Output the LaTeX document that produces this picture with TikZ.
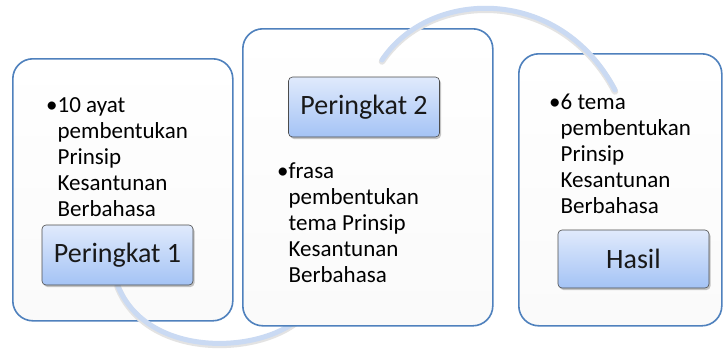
\documentclass[tikz,border=0pt]{standalone}
\usepackage{fontspec}
\setmainfont{Carlito}
\usetikzlibrary{shadows}

\definecolor{rim}{RGB}{79,129,189}
\definecolor{labtop}{RGB}{224,234,252}
\definecolor{labbot}{RGB}{164,195,245}
\definecolor{arcblue}{RGB}{202,218,243}

\newcommand{\bul}{\textbullet}
\newcommand{\ind}{\hphantom{\textbullet}}
\newcommand{\pts}[1]{\begin{tabular}[t]{@{}l@{}}#1\end{tabular}}

\begin{document}
\begin{tikzpicture}[x=1pt, y=-1pt,
    panel/.style={draw=rim, line width=1.6pt, rounded corners=20pt,
      top color=white, bottom color=gray!4, anchor=north west},
    tagbox/.style={draw=gray!60!black, line width=0.6pt, rounded corners=4pt,
      top color=labtop, bottom color=labbot,
      drop shadow={shadow xshift=1.5pt, shadow yshift=-2pt, opacity=0.45},
      minimum width=151pt, minimum height=60pt,
      font=\fontsize{28}{32}\selectfont, text=black!90},
    body/.style={inner sep=0pt, anchor=base west,
      font=\fontsize{23}{26}\selectfont},
    sweep/.style={line width=5pt, arcblue, line cap=round},
    sweepshade/.style={line width=6.5pt, gray!22, line cap=round}]

    % Page
    \fill[white] (0,0) rectangle (723,349);
    \useasboundingbox (0,0) rectangle (723,349);

    % Define coordinates
    \coordinate (lowstart) at (117.5,285);
    \coordinate (lowend) at (295,322);
    \coordinate (upstart) at (382,60);
    \coordinate (upend) at (615,90);

    % First panel and lower sweep
    \node[panel, minimum width=220pt, minimum height=262pt] (box1) at (12,58) {};
    \draw[sweepshade, transform canvas={yshift=-1.5pt}] (lowstart) .. controls (145,355) and (250,355) .. (lowend);
    \draw[sweep] (lowstart) .. controls (145,355) and (250,355) .. (lowend);

    % Other panels
    \node[panel, minimum width=250pt, minimum height=297pt] (box2) at (242,28) {};
    \node[panel, minimum width=203pt, minimum height=272pt] (box3) at (518,53) {};

    % Upper sweep
    \draw[sweepshade, transform canvas={yshift=-1.5pt}] (upstart) .. controls (430,-12) and (560,-15) .. (upend);
    \draw[sweep] (upstart) .. controls (430,-12) and (560,-15) .. (upend);

    % Labels
    \node[tagbox] (lab1) at (117.5,255) {Peringkat 1};
    \node[tagbox] (lab2) at (364,107) {Peringkat 2};
    \node[tagbox, minimum height=58pt] (lab3) at (633.5,259) {Hasil};

    % Bullet texts
    \node[body] (txt1) at (46,112) {\pts{\bul 10 ayat\\ \ind pembentukan\\ \ind Prinsip\\ \ind Kesantunan\\ \ind Berbahasa}};
    \node[body] (txt2) at (277,178) {\pts{\bul frasa\\ \ind pembentukan\\ \ind tema Prinsip\\ \ind Kesantunan\\ \ind Berbahasa}};
    \node[body] (txt3) at (549,109) {\pts{\bul 6 tema\\ \ind pembentukan\\ \ind Prinsip\\ \ind Kesantunan\\ \ind Berbahasa}};
\end{tikzpicture}
\end{document}
